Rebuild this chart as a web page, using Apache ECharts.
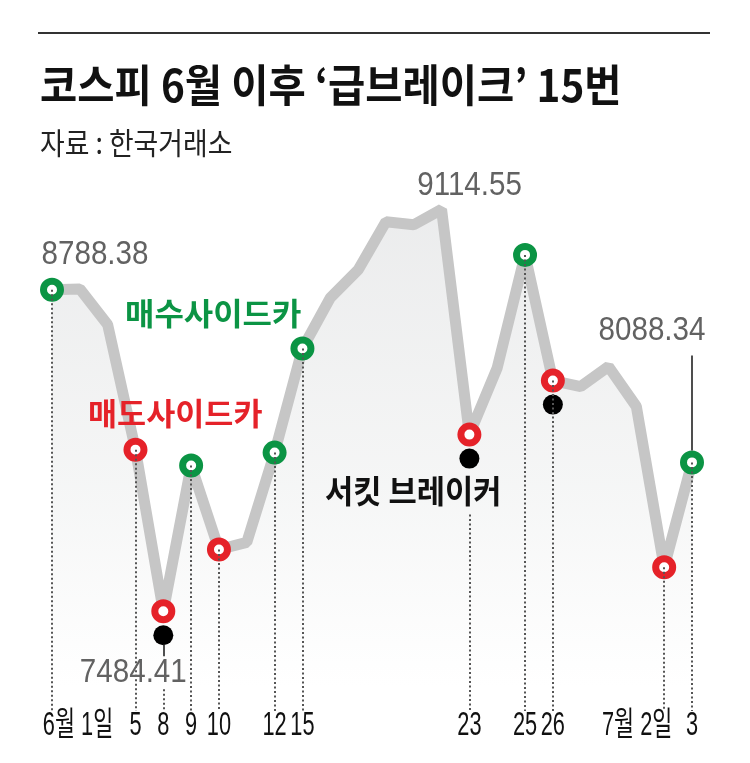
<!DOCTYPE html>
<html>
<head>
<meta charset="utf-8">
<script src="https://cdn.jsdelivr.net/npm/echarts@6/dist/echarts.min.js"></script>
<style>
  html,body{margin:0;padding:0;background:#fff;}
  #c{width:750px;height:763px;}
</style>
</head>
<body>
<div id="c"></div>
<script>
// ---------- data ----------
const dates = ['6/1','6/2','6/4','6/5','6/8','6/9','6/10','6/11','6/12','6/15','6/16','6/17','6/18','6/19','6/22','6/23','6/24','6/25','6/26','6/29','6/30','7/1','7/2','7/3'];
const tickLabels = ['6월 1일','','','5','8','9','10','','12','15','','','','','','23','','25','26','','','','7월 2일','3'];
const kospi = [8788.38, 8792, 8647, 8140, 7484.41, 8076, 7735, 7764, 8128, 8550, 8756, 8869, 9064, 9052, 9114.55, 8201, 8472, 8930, 8420, 8396, 8477, 8315, 7663, 8088.34];
const buySidecar = ['6/1','6/9','6/12','6/15','6/25','7/3'];
const sellSidecar = ['6/5','6/8','6/10','6/23','6/26','7/2'];
const circuitBreaker = ['6/8','6/23','6/26'];
const labeledDays = ['6/1','6/8','6/22','7/3'];

const title = '코스피 6월 이후 ‘급브레이크’ 15번';
const source = '자료 : 한국거래소';
const buyName = '매수사이드카';
const sellName = '매도사이드카';
const cbName = '서킷 브레이커';

// ---------- layout ----------
const Y_MIN = 7080, Y_MAX = 9400;
const GRID_TOP = 139, GRID_H = 572;
const PX = (Y_MAX - Y_MIN) / GRID_H;   // value per pixel
const GREEN = '#0b9444', RED = '#e52229';

const val = d => kospi[dates.indexOf(d)];

const guideStartOffset = { '6/8': 78, '6/23': 80 };
const guideDays = dates.filter(d => buySidecar.includes(d) || sellSidecar.includes(d));
const dottedLines = guideDays.map(d => [
  { coord: [d, val(d) - (guideStartOffset[d] || 0) * PX] },
  { coord: [d, Y_MIN] }
]);
const leaderLines = [
  [{ coord: ['6/8', val('6/8') - 33 * PX] }, { coord: ['6/8', val('6/8') - 45 * PX] }],
  [{ coord: ['7/3', val('7/3') + 12 * PX] }, { coord: ['7/3', val('7/3') + 107 * PX] }]
];
const labelOffsets = { '6/1': [43, -35], '6/8': [-30, 61], '6/22': [28, -24], '7/3': [-40, -132] };
const tickShift = { '6/1': 26, '7/2': -27 };

const chart = echarts.init(document.getElementById('c'), null, { renderer: 'canvas' });
const option = {
  backgroundColor: '#fff',
  animation: false,
  grid: { left: 52, right: 58, top: GRID_TOP, height: GRID_H, containLabel: false },
  xAxis: {
    type: 'category', data: dates, boundaryGap: false,
    axisLine: { show: false }, axisTick: { show: false }, splitLine: { show: false },
    axisLabel: { show: false }
  },
  yAxis: { type: 'value', min: Y_MIN, max: Y_MAX, show: false },
  series: [
    {
      type: 'line', data: kospi, symbol: 'none', silent: true, z: 1,
      lineStyle: { opacity: 0 },
      markLine: {
        silent: true, symbol: ['none', 'none'], label: { show: false },
        lineStyle: { color: '#555', width: 2, type: [2, 2.5] },
        data: dottedLines
      }
    },
    {
      type: 'line', data: kospi, symbol: 'none', silent: true, z: 2,
      lineStyle: { color: '#c6c6c6', width: 11 },
      areaStyle: {
        color: new echarts.graphic.LinearGradient(0, 0, 0, 1, [
          { offset: 0, color: '#e3e4e5' },
          { offset: 0.55, color: '#f1f2f2' },
          { offset: 0.95, color: '#ffffff' }
        ])
      },
      markLine: {
        silent: true, symbol: ['none', 'none'], label: { show: false },
        lineStyle: { color: '#222', width: 1.6, type: 'solid' },
        data: leaderLines
      }
    },
    {
      type: 'scatter', z: 3, silent: true,
      data: circuitBreaker.map(d => [d, val(d)]),
      symbol: 'circle', symbolSize: 20, symbolOffset: [0, 24],
      itemStyle: { color: '#000', opacity: 1 }
    },
    {
      type: 'scatter', z: 4, silent: true,
      data: buySidecar.map(d => [d, val(d)]),
      symbol: 'circle', symbolSize: 17,
      itemStyle: { color: '#fff', borderColor: GREEN, borderWidth: 7, opacity: 1 }
    },
    {
      type: 'scatter', z: 4, silent: true,
      data: sellSidecar.map(d => [d, val(d)]),
      symbol: 'circle', symbolSize: 17,
      itemStyle: { color: '#fff', borderColor: RED, borderWidth: 7, opacity: 1 }
    }
  ]
};
chart.setOption(option);

// ---------- text (positions from the chart's own scales) ----------
const toPx = (d, v) => chart.convertToPixel({ gridIndex: 0 }, [dates.indexOf(d), v]);
const axisY = chart.convertToPixel({ gridIndex: 0 }, [0, Y_MIN])[1];

const texts = [
  { type: 'line', shape: { x1: 38, y1: 33, x2: 710, y2: 33 }, style: { stroke: '#333', lineWidth: 2 } },
  { type: 'text', x: 40, y: 63, scaleX: 0.92,
    style: { text: title, fontFamily: '"Noto Sans CJK KR"', fontWeight: 'bold', fontSize: 44, fill: '#111', verticalAlign: 'top' } },
  { type: 'text', x: 40, y: 128, scaleX: 0.895,
    style: { text: source, fontFamily: '"Noto Sans CJK KR"', fontSize: 30, fill: '#222', verticalAlign: 'top' } },
  { type: 'text', x: 125, y: 298, scaleX: 1.03, z: 10,
    style: { text: buyName, fontFamily: '"Noto Sans CJK KR"', fontWeight: 'bold', fontSize: 31, fill: GREEN, verticalAlign: 'top' } },
  { type: 'text', x: 88, y: 398, scaleX: 1.02, z: 10,
    style: { text: sellName, fontFamily: '"Noto Sans CJK KR"', fontWeight: 'bold', fontSize: 31, fill: RED, verticalAlign: 'top' } },
  { type: 'text', x: 325, y: 475, scaleX: 0.96, z: 10,
    style: { text: cbName, fontFamily: '"Noto Sans CJK KR"', fontWeight: 'bold', fontSize: 32, fill: '#111', verticalAlign: 'top' } }
];
// value labels
labeledDays.forEach(d => {
  const p = toPx(d, val(d));
  const o = labelOffsets[d];
  texts.push({ type: 'text', x: p[0] + o[0], y: p[1] + o[1], scaleX: 0.87, z: 10,
    style: { text: val(d).toFixed(2), fontFamily: '"Liberation Sans", Arial, sans-serif', fontSize: 34,
             fill: '#626262', align: 'center', verticalAlign: 'middle' } });
});
// x tick labels
dates.forEach((d, i) => {
  if (!tickLabels[i]) return;
  const x = toPx(d, Y_MIN)[0] + (tickShift[d] || 0);
  texts.push({ type: 'text', x: x, y: axisY + 15, scaleX: 0.66, z: 10,
    style: { text: tickLabels[i], fontFamily: '"Liberation Sans","Noto Sans CJK KR", sans-serif', fontSize: 33,
             fill: '#111', align: 'center', verticalAlign: 'middle' } });
});
chart.setOption({ graphic: texts });
</script>
</body>
</html>
